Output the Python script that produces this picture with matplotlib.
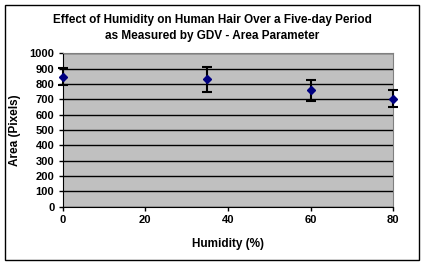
import matplotlib.pyplot as plt
from matplotlib.patches import Rectangle

plt.rcParams['font.family'] = ['Liberation Sans', 'DejaVu Sans']

humidity = [0, 35, 60, 80]
area = [848, 830, 760, 705]
area_err = [55, 82, 68, 58]
yticks = list(range(0, 1001, 100))
xticks = [0, 20, 40, 60, 80]

fig = plt.figure(figsize=(4.25, 2.65), dpi=100)
ax = fig.add_axes([0.1475, 0.22, 0.7775, 0.579])

# outer chart border
fig.patches.append(Rectangle((5 / 425, 5 / 265), 414 / 425, 255 / 265,
                             transform=fig.transFigure, fill=False,
                             edgecolor='black', linewidth=1))

ax.set_facecolor('#c0c0c0')
ax.errorbar(humidity, area, yerr=area_err, fmt='D', color='#000080',
            markersize=4.5, ecolor='black', elinewidth=1.5, capsize=3.5,
            capthick=1.5, zorder=3, clip_on=False)

ax.set_xlim(0, 80)
ax.set_ylim(0, 1000)
ax.set_xticks(xticks)
ax.set_yticks(yticks)
ax.grid(axis='y', color='black', linewidth=1)
ax.set_axisbelow(True)

for s in ['top', 'right']:
    ax.spines[s].set_color('#808080')
for s in ['left', 'bottom']:
    ax.spines[s].set_color('black')

ax.tick_params(direction='out', length=3, width=1, labelsize=8, pad=3)
for lab in ax.get_xticklabels() + ax.get_yticklabels():
    lab.set_fontweight('bold')

ax.set_xlabel('Humidity (%)', fontsize=8.5, fontweight='bold', labelpad=9)
ax.set_ylabel('Area (Pixels)', fontsize=8.5, fontweight='bold', labelpad=6)
fig.text(0.5, 0.895, 'Effect of Humidity on Human Hair Over a Five-day Period\nas Measured by GDV - Area Parameter',
         ha='center', va='center', fontsize=8.5, fontweight='bold', linespacing=1.5)

fig.savefig('out.png', dpi=100)
